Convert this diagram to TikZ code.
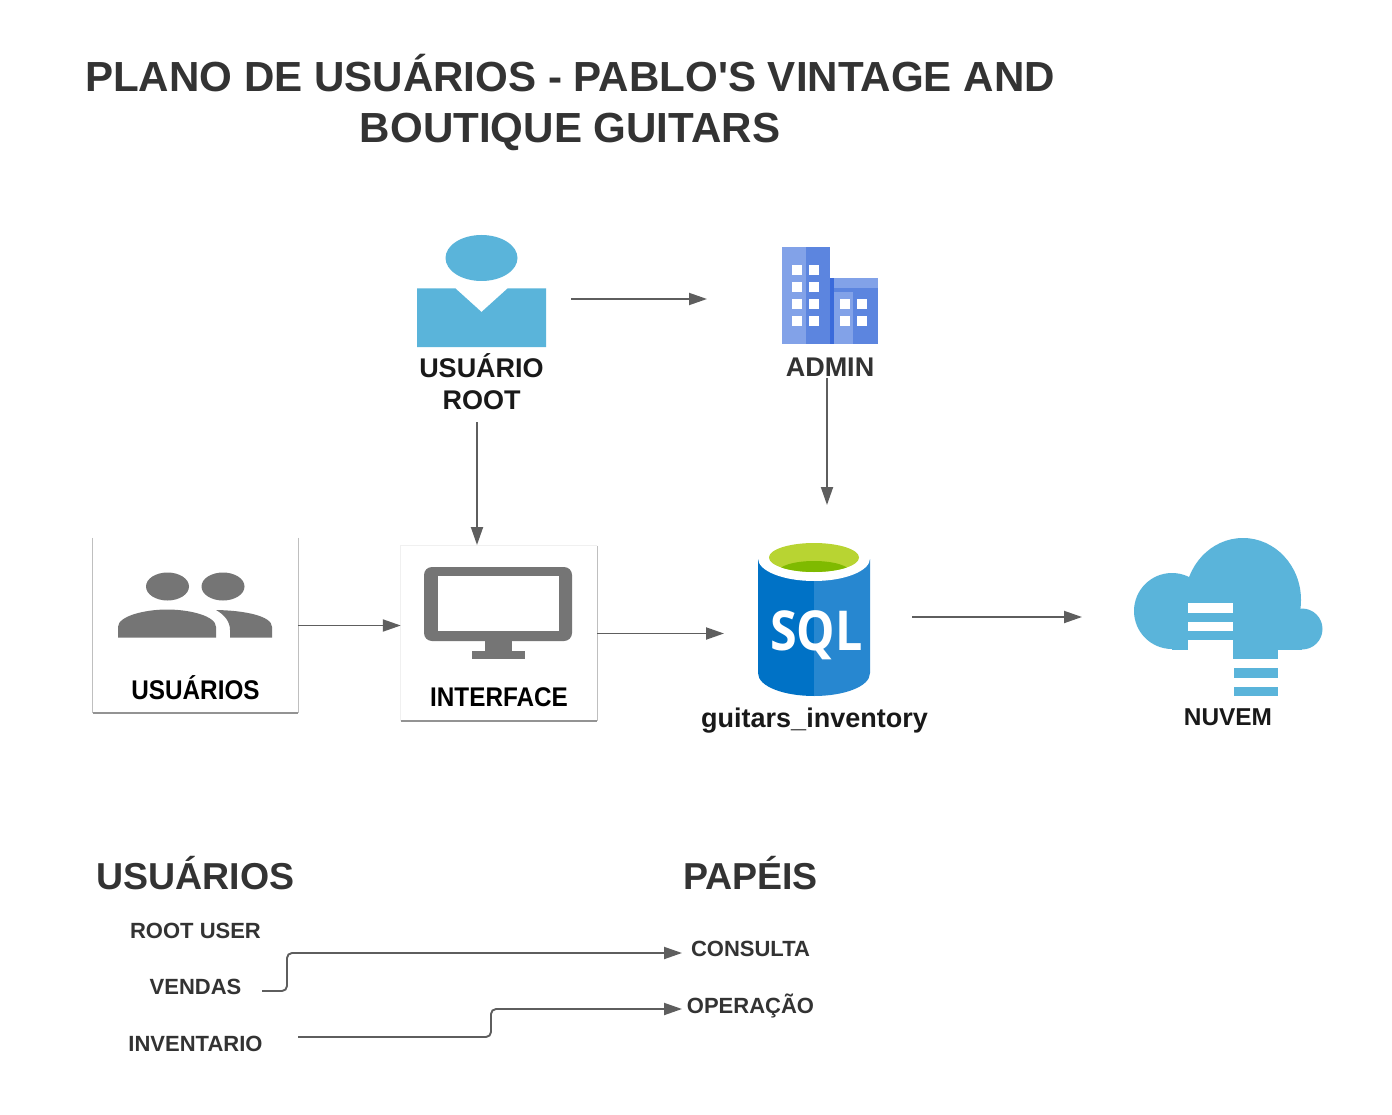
\documentclass[tikz,border=0pt]{standalone}
\usepackage{fontspec}
\setmainfont{Liberation Sans}
\newfontfamily\sqlfont{Open Sans}
\usetikzlibrary{arrows.meta}
\definecolor{inkgray}{HTML}{333333}
\definecolor{flowgray}{HTML}{5E5E5E}
\definecolor{icongray}{HTML}{757575}
\definecolor{skyblue}{HTML}{5AB4DA}
\definecolor{towerlight}{HTML}{82A2E8}
\definecolor{towermid}{HTML}{5C85DF}
\definecolor{towerdark}{HTML}{3A6ADB}
\definecolor{sqlleft}{HTML}{0072C6}
\definecolor{sqlright}{HTML}{2787D0}
\definecolor{sqllime}{HTML}{B8D432}
\definecolor{sqlgreen}{HTML}{7FBA00}
\tikzset{
  flow/.style={draw=flowgray,line width=1.9pt,->},
  boxedge/.style={draw=gray!50,line width=1pt},
  boxshade/.style={draw=gray!85,line width=2.4pt},
  title/.style={font=\bfseries\fontsize{42.1}{51}\selectfont,text=inkgray,align=center,inner sep=0pt},
  heading/.style={font=\bfseries\fontsize{37.5}{44}\selectfont,text=inkgray,inner sep=0pt},
  iconlabel/.style={font=\bfseries\fontsize{27}{32.5}\selectfont,text=black!90,align=center,inner sep=0pt},
  listlabel/.style={font=\bfseries\fontsize{22}{26}\selectfont,text=inkgray,inner sep=0pt},
}
\begin{document}
\begin{tikzpicture}[x=1pt,y=-1pt,>={Triangle[length=18pt,width=12pt]},line join=round]
  \useasboundingbox (0,0) rectangle (1392,1115);
  \fill[white] (0,0) rectangle (1392,1115);
  \node[title] (planTitle) at (570,102) {PLANO DE USUÁRIOS - PABLO\textquotesingle S VINTAGE AND\\BOUTIQUE GUITARS};
  % root user
  \fill[skyblue] (481.5,258) ellipse (36 and 23);
  \fill[skyblue] (417,288.5)--(455.5,288.5)--(481.5,312)--(507.5,288.5)--(546,288.5)--(546,347)--(417,347)--cycle;
  \node[iconlabel] (rootLabel) at (481.5,381.5) {USUÁRIO\\ROOT};
  % admin building
  \fill[towerlight] (782,247) rectangle (806,343.5);
  \fill[towermid] (806,247) rectangle (830,343.5);
  \fill[towerlight] (830,278) rectangle (878,288.5);
  \fill[towerdark] (830,278) rectangle (833.5,343.5);
  \fill[towerlight] (833.5,292) rectangle (853,343.5);
  \fill[towermid] (853,292) rectangle (878,343.5);
  \fill[towermid] (833.5,288.5) rectangle (878,292);
  \foreach \wy in {265,282,299,316} {
    \fill[white] (792,\wy) rectangle +(10,10);
    \fill[white] (809,\wy) rectangle +(10,10);
  }
  \foreach \wy in {299,316} {
    \fill[white] (840,\wy) rectangle +(10,10);
    \fill[white] (857,\wy) rectangle +(10,10);
  }
  \node[iconlabel,text=inkgray] (adminLabel) at (830,367.5) {ADMIN};
  % users box
  \node[minimum width=205pt,minimum height=175pt,inner sep=0pt] (usersBox) at (195.5,625.5) {};
  \draw[boxedge] (usersBox.north west)--(usersBox.south west);
  \draw[boxedge] (usersBox.north east)--(usersBox.south east);
  \draw[boxshade] (usersBox.south west)--(usersBox.south east);
  \fill[icongray] (167.5,586.5) ellipse (21.5 and 14);
  \fill[icongray] (223,586.5) ellipse (21.5 and 14);
  \fill[icongray] (118,637.5)--(118,627) .. controls (118,616) and (145,609.5) .. (167,609.5) .. controls (190,609.5) and (216,616) .. (216,627)--(216,637.5)--cycle;
  \fill[icongray] (216,610) .. controls (245,610.5) and (272,616) .. (272,627)--(272,637.5)--(230,637.5)--(230,630) .. controls (230,622) and (225,615) .. (216,610)--cycle;
  \node[iconlabel,text=black,xscale=.9] (usersLabel) at (195.5,687.5) {USUÁRIOS};
  % interface box
  \node[minimum width=196pt,minimum height=175pt,inner sep=0pt] (interfaceBox) at (499,633.5) {};
  \draw[boxedge,draw=gray!12] (interfaceBox.south west)--(interfaceBox.north west)--(interfaceBox.north east);
  \draw[boxedge] (interfaceBox.north east)--(interfaceBox.south east);
  \draw[boxshade] (interfaceBox.south west)--(interfaceBox.south east);
  \fill[icongray,rounded corners=8pt] (424,567) rectangle (572,641);
  \fill[white] (438,576) rectangle (559,631);
  \fill[icongray] (485,641) rectangle (512,651);
  \fill[icongray] (472,651) rectangle (525,659);
  \node[iconlabel,text=black,xscale=.9] (interfaceLabel) at (499,697) {INTERFACE};
  % database
  \fill[sqlleft] (814,559)--(758,559)--(758,673) .. controls (758,687) and (785,696) .. (814,696)--cycle;
  \fill[sqlright] (814,559)--(870,559)--(870,673) .. controls (870,687) and (843,696) .. (814,696)--cycle;
  \fill[white] (814,558.5) ellipse (56 and 22.5);
  \fill[sqllime] (814,557.5) ellipse (45 and 14.5);
  \begin{scope}
    \clip (814,557.5) ellipse (45 and 14.5);
    \fill[sqlgreen] (814,572) ellipse (36 and 11);
  \end{scope}
  \node[text=white,inner sep=0pt,font=\sqlfont\bfseries\fontsize{55}{55}\selectfont,xscale=.88] (sqlText) at (816.5,635) {SQL};
  \node[iconlabel] (sqlLabel) at (814.5,721) {guitars\_inventory};
  % cloud
  \begin{scope}
    \clip (1100,530) rectangle (1340,649.5);
    \fill[skyblue] (1243,600) ellipse (58 and 62);
    \fill[skyblue] (1172,611) ellipse (38 and 38);
    \fill[skyblue] (1302,629) circle (20.5);
    \fill[skyblue] (1172,612) rectangle (1302,649.5);
  \end{scope}
  \fill[skyblue] (1233,649) rectangle (1278,659);
  \fill[white] (1188,603) rectangle (1233,613);
  \fill[white] (1188,621.5) rectangle (1233,631);
  \fill[white] (1188,640) rectangle (1233,651);
  \fill[skyblue] (1233.5,668) rectangle (1278,677.5);
  \fill[skyblue] (1233.5,687) rectangle (1278,696);
  \node[iconlabel,font=\bfseries\fontsize{24.4}{30}\selectfont] (cloudLabel) at (1228,717) {NUVEM};
  % free ends of the connectors
  \coordinate (rootOut) at (571,299);
  \coordinate (adminIn) at (707,299);
  \coordinate (rootDown) at (477,422);
  \coordinate (interfaceIn) at (477,545);
  \coordinate (adminDown) at (827,378);
  \coordinate (sqlIn) at (827,505);
  \coordinate (sqlOut) at (912,617);
  \coordinate (cloudIn) at (1082,617);
  \draw[flow] (rootOut)--(adminIn);
  \draw[flow] (rootDown)--(interfaceIn);
  \draw[flow] (adminDown)--(sqlIn);
  \draw[flow] (usersBox.east)--(interfaceBox.west |- usersBox.east);
  \draw[flow] (interfaceBox.east)--(724,633.5);
  \draw[flow] (sqlOut)--(cloudIn);
  % lists
  \node[heading] (usersHead) at (195.5,873) {USUÁRIOS};
  \node[heading] (rolesHead) at (750.5,873) {PAPÉIS};
  \node[listlabel] (rootItem) at (195.5,931) {ROOT USER};
  \node[listlabel] (salesItem) at (195.5,987) {VENDAS};
  \node[listlabel] (stockItem) at (195.5,1044) {INVENTARIO};
  \node[listlabel] (queryItem) at (750.5,949) {CONSULTA};
  \node[listlabel] (opItem) at (750.5,1006) {OPERAÇÃO};
  \coordinate (salesOut) at (262,991);
  \coordinate (queryIn) at (682,953);
  \coordinate (stockOut) at (298,1037);
  \coordinate (opIn) at (682,1009);
  \draw[flow,rounded corners=5pt] (salesOut)--(287,991)|-(queryIn);
  \draw[flow,rounded corners=5pt] (stockOut)--(491,1037)|-(opIn);
\end{tikzpicture}
\end{document}
